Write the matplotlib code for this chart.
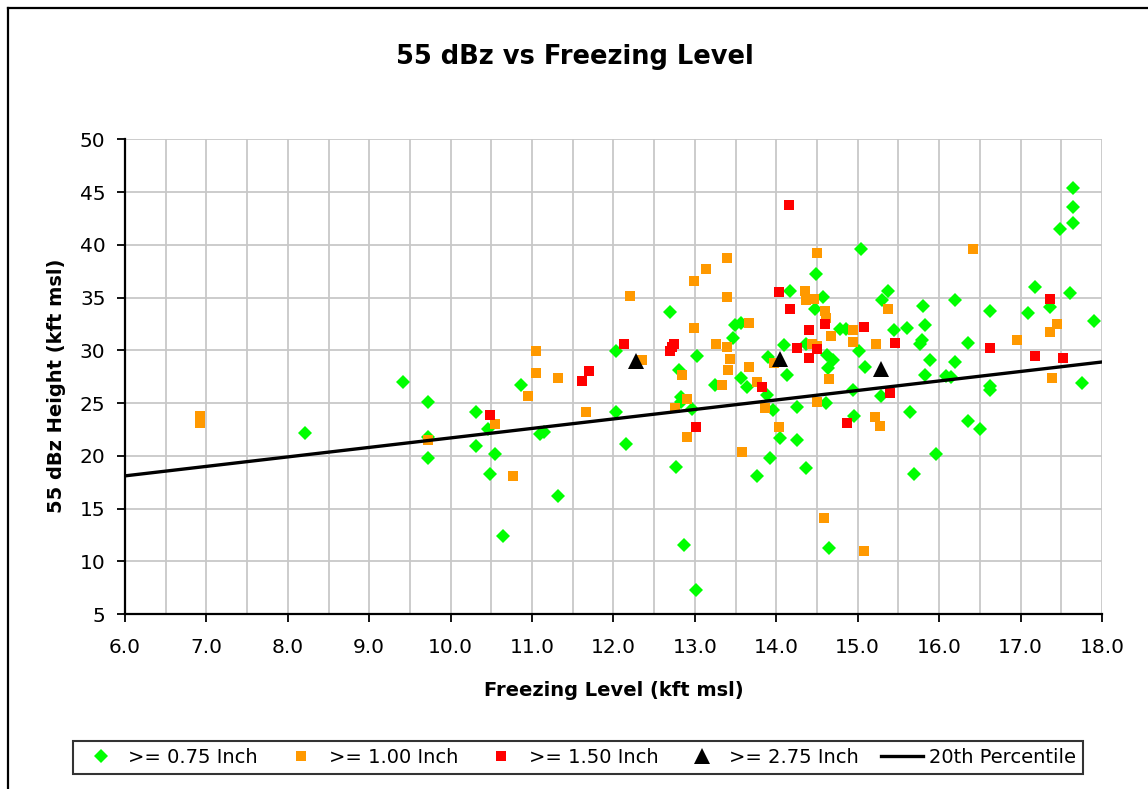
import matplotlib
matplotlib.use("Agg")
import matplotlib.pyplot as plt
from matplotlib.lines import Line2D
from matplotlib.ticker import MultipleLocator

# >= 0.75 inch hail
green_x = [8.21, 9.41, 9.72, 9.72, 9.72, 10.31, 10.31, 10.46, 10.55, 10.48, 10.64, 10.87,
           11.10, 11.15, 11.32, 12.03, 12.03, 12.15, 12.70, 12.81, 12.83, 12.83, 12.77, 12.86,
           13.01, 12.97, 13.03, 13.25, 13.49, 13.56, 13.47, 13.56, 13.64, 13.88, 13.96, 14.04,
           13.92, 13.76, 14.17, 14.10, 13.90, 14.13, 14.25, 14.25, 14.49, 14.57, 14.48, 14.36,
           14.62, 14.70, 14.64, 15.02, 15.09, 14.78, 14.86, 15.04, 14.61, 14.94, 15.28, 14.95,
           14.37, 14.65, 15.30, 15.37, 15.44, 15.60, 15.64, 15.80, 15.82, 15.79, 15.76, 15.89,
           15.82, 15.69, 15.96, 16.20, 16.36, 16.20, 16.09, 16.14, 16.36, 16.50, 16.62, 16.62,
           16.62, 17.09, 17.18, 17.36, 17.61, 17.64, 17.64, 17.64, 17.49, 17.75, 17.90]
green_y = [22.2, 27.0, 25.1, 21.8, 19.8, 24.2, 20.9, 22.5, 20.2, 18.3, 12.4, 26.7,
           22.1, 22.3, 16.2, 29.9, 24.2, 21.1, 33.6, 28.1, 25.6, 25.1, 18.9, 11.5,
           7.3, 24.4, 29.5, 26.7, 32.4, 32.6, 31.2, 27.4, 26.5, 25.8, 24.3, 21.7,
           19.8, 18.1, 35.6, 30.5, 29.4, 27.7, 24.6, 21.5, 37.2, 35.1, 33.9, 30.6,
           29.6, 29.1, 28.3, 29.9, 28.4, 32.0, 32.0, 39.6, 25.0, 26.2, 25.7, 23.8,
           18.8, 11.3, 34.8, 35.6, 31.9, 32.1, 24.2, 34.2, 32.4, 31.0, 30.6, 29.1,
           27.7, 18.3, 20.2, 34.8, 30.7, 28.9, 27.6, 27.5, 23.3, 22.5, 33.7, 26.6,
           26.2, 33.5, 36.0, 34.1, 35.4, 45.4, 43.6, 42.1, 41.5, 26.9, 32.8]

# >= 1.00 inch
orange_x = [6.92, 6.92, 9.72, 10.55, 10.77, 11.05, 11.05, 10.95, 11.32, 11.66, 12.20, 12.35,
            12.84, 12.99, 13.13, 13.40, 13.40, 12.99, 12.90, 12.75, 12.90, 13.26, 13.40, 13.43,
            13.41, 13.67, 13.67, 13.33, 13.76, 13.86, 13.58, 14.03, 13.97, 14.50, 16.41, 14.35,
            14.37, 14.46, 14.60, 14.61, 14.67, 14.94, 14.94, 15.23, 15.37, 14.44, 14.50, 14.65,
            14.50, 15.21, 15.27, 14.58, 15.08, 16.95, 17.45, 17.36, 17.39]
orange_y = [23.8, 23.1, 21.5, 23.0, 18.1, 29.9, 27.9, 25.7, 27.4, 24.2, 35.2, 29.1,
            27.7, 36.6, 37.7, 38.8, 35.1, 32.1, 25.4, 24.5, 21.8, 30.6, 30.3, 29.2,
            28.1, 32.6, 28.4, 26.7, 27.0, 24.5, 20.4, 22.7, 28.8, 39.2, 39.6, 35.6,
            34.8, 34.9, 33.7, 33.1, 31.4, 31.9, 30.8, 30.6, 33.9, 30.6, 30.4, 27.3,
            25.1, 23.7, 22.8, 14.1, 11.0, 31.0, 32.5, 31.7, 27.4]

# >= 1.50 inch
red_x = [10.48, 11.61, 11.70, 12.13, 12.74, 12.72, 12.70, 13.01, 13.83, 14.03, 14.17, 14.16,
         14.60, 14.40, 15.08, 15.46, 14.25, 14.50, 14.40, 15.39, 14.87, 16.62, 17.36, 17.18,
         17.52]
red_y = [23.9, 27.1, 28.0, 30.6, 30.6, 30.3, 29.9, 22.7, 26.5, 35.5, 33.9, 43.8,
         32.5, 31.9, 32.2, 30.7, 30.2, 30.1, 29.3, 26.0, 23.1, 30.2, 34.9, 29.5,
         29.3]

# >= 2.75 inch
black_x = [12.28, 14.04, 15.28]
black_y = [29.0, 29.2, 28.2]

# 20th percentile line
pct_x = [6.0, 18.0]
pct_y = [18.1, 28.9]

plt.rcParams["font.family"] = "DejaVu Sans"

fig = plt.figure(figsize=(11.48, 7.89), dpi=100)
ax = fig.add_axes([125 / 1148, 1 - 614 / 789, 977 / 1148, 474.5 / 789])

ax.plot(green_x, green_y, "D", color="#00ff00", ms=6.8, mew=0, zorder=3)
ax.plot(orange_x, orange_y, "s", color="#ff9900", ms=7.4, mew=0, zorder=3)
ax.plot(red_x, red_y, "s", color="#ff0000", ms=7.4, mew=0, zorder=3)
ax.plot(black_x, black_y, "^", color="black", ms=11, mew=0, zorder=3)
ax.plot(pct_x, pct_y, "-", color="black", lw=2.4, zorder=4)

ax.set_xlim(6, 18)
ax.set_ylim(5, 50)
ax.xaxis.set_major_locator(MultipleLocator(1.0))
ax.xaxis.set_minor_locator(MultipleLocator(0.5))
ax.yaxis.set_major_locator(MultipleLocator(5))
ax.xaxis.set_major_formatter(lambda v, p: f"{v:.1f}")
ax.yaxis.set_major_formatter(lambda v, p: f"{v:.0f}")
ax.grid(True, which="both", color="#c8c8c8", lw=1.3, zorder=0)
ax.set_axisbelow(True)
ax.tick_params(axis="both", which="major", direction="out", length=6, width=1.3,
               labelsize=14.5, colors="black")
ax.tick_params(axis="x", which="major", pad=11)
ax.tick_params(axis="y", which="major", pad=8)
ax.tick_params(axis="x", which="minor", length=0)
for s in ("top", "right"):
    ax.spines[s].set_visible(False)
for s in ("left", "bottom"):
    ax.spines[s].set_linewidth(1.6)

ax.set_xlabel("Freezing Level (kft msl)", fontsize=14, weight="bold", va="center")
ax.xaxis.set_label_coords(0.5, (614 - 691) / 474.5)
ax.set_ylabel("55 dBz Height (kft msl)", fontsize=14, weight="bold", va="center")
ax.yaxis.set_label_coords((57 - 125) / 977, 0.48)

fig.text(575 / 1148, 1 - 57 / 789, "55 dBz vs Freezing Level", fontsize=18.5,
         weight="bold", ha="center", va="center")

# moldura do grafico (so esquerda e topo aparecem)
fig.add_artist(Line2D([8 / 1148, 8 / 1148], [0, 1 - 7.5 / 789], color="black", lw=1.6,
                      transform=fig.transFigure))
fig.add_artist(Line2D([8 / 1148, 1], [1 - 7.5 / 789, 1 - 7.5 / 789], color="black", lw=1.6,
                      transform=fig.transFigure))

handles = [
    Line2D([], [], ls="", marker="D", color="#00ff00", ms=6.8, mew=0),
    Line2D([], [], ls="", marker="s", color="#ff9900", ms=7.4, mew=0),
    Line2D([], [], ls="", marker="s", color="#ff0000", ms=7.4, mew=0),
    Line2D([], [], ls="", marker="^", color="black", ms=11, mew=0),
    Line2D([], [], ls="-", color="black", lw=2.4),
]
labels = [">= 0.75 Inch", ">= 1.00 Inch", ">= 1.50 Inch", ">= 2.75 Inch", "20th Percentile"]
leg = fig.legend(handles, labels, loc="center", ncol=5, mode="expand",
                 bbox_to_anchor=(73 / 1148, 10 / 789, 1010 / 1148, 43 / 789),
                 fontsize=14, frameon=True, fancybox=False, borderaxespad=0,
                 handlelength=2.2, handletextpad=0.3, columnspacing=1.2, borderpad=0.35)
leg.get_frame().set_edgecolor("black")
leg.get_frame().set_linewidth(1.5)

fig.savefig("out.png", dpi=100)
